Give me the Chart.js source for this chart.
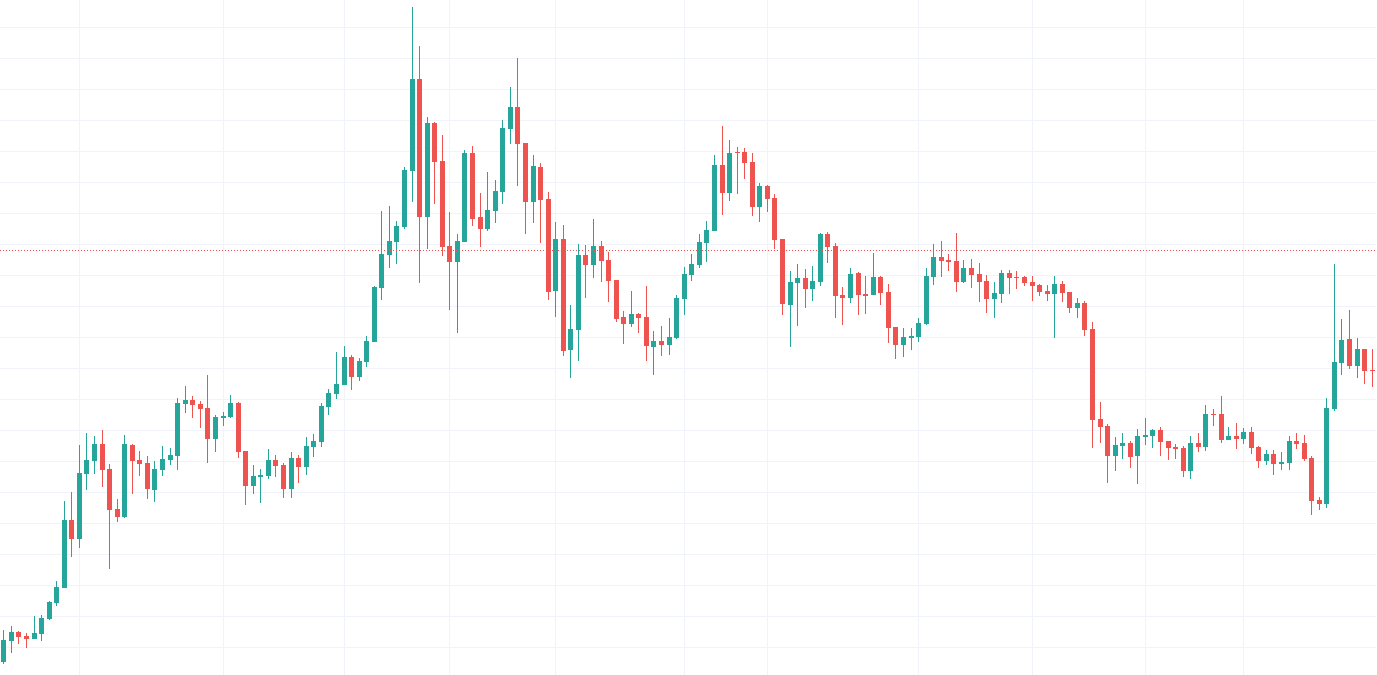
<!DOCTYPE html>
<html>
<head>
<meta charset="utf-8">
<script src="https://cdn.jsdelivr.net/npm/chart.js@4.4.1/dist/chart.umd.min.js"></script>
<style>
  html, body { margin: 0; padding: 0; background: #ffffff; }
  #wrap { width: 1377px; height: 675px; }
</style>
</head>
<body>
<div id="wrap"><canvas id="chart" width="1377" height="675"></canvas></div>
<script>
// daily candles, oldest first
const opens = [
  9.54, 10.21, 10.49, 10.37, 10.28, 10.44, 10.90, 11.44, 11.92, 14.11,
  13.50, 15.60, 16.02, 16.56, 15.75, 14.46, 14.21, 16.53, 16.04, 15.95,
  15.08, 15.73, 16.05, 16.18, 17.86, 17.98, 17.85, 17.72, 16.73, 17.41,
  17.43, 17.88, 16.33, 15.21, 15.50, 15.54, 16.04, 15.88, 15.12, 16.11,
  15.83, 16.47, 16.62, 17.76, 18.18, 18.47, 19.36, 18.73, 19.21, 19.86,
  21.60, 22.66, 23.08, 23.56, 25.37, 28.33, 23.88, 26.91, 25.69, 22.95,
  22.43, 23.07, 25.95, 23.88, 23.49, 24.07, 24.69, 26.72, 27.43, 26.27,
  24.37, 25.49, 24.46, 21.49, 23.17, 19.59, 20.24, 22.66, 22.33, 22.95,
  22.49, 21.85, 20.66, 20.43, 20.75, 20.66, 19.69, 19.88, 19.75, 19.98,
  21.24, 22.01, 22.33, 23.04, 23.43, 25.56, 24.66, 25.97, 25.98, 25.66,
  24.20, 24.88, 24.49, 23.17, 21.04, 21.75, 21.91, 21.56, 21.78, 23.33,
  22.95, 21.37, 21.27, 22.07, 21.40, 21.37, 21.95, 21.46, 20.33, 19.75,
  19.98, 20.01, 20.43, 21.95, 22.59, 22.49, 22.46, 21.78, 22.24, 22.04,
  21.82, 21.24, 21.40, 22.07, 21.95, 21.95, 21.78, 21.69, 21.49, 21.40,
  21.72, 21.46, 20.95, 21.11, 20.27, 17.36, 17.14, 16.17, 16.49, 16.59,
  16.17, 16.78, 16.82, 17.01, 16.65, 16.46, 16.43, 15.69, 16.59, 16.46,
  17.53, 17.53, 16.69, 16.82, 16.72, 16.95, 16.46, 16.01, 16.24, 15.91,
  15.95, 16.65, 16.59, 16.11, 14.75, 14.62, 17.69, 19.17, 19.95, 19.07,
  19.62, 18.95
];
const highs = [
  10.56, 10.69, 10.53, 10.46, 11.01, 11.04, 11.49, 12.14, 14.72, 15.01,
  16.53, 16.91, 16.82, 17.01, 15.91, 14.78, 16.85, 16.56, 16.33, 16.17,
  16.01, 16.49, 16.43, 18.04, 18.43, 18.11, 17.95, 18.78, 17.49, 17.59,
  18.14, 17.91, 16.34, 15.88, 15.75, 16.40, 16.20, 15.95, 16.30, 16.20,
  16.78, 16.88, 17.88, 18.33, 19.54, 19.72, 19.43, 19.33, 20.04, 21.66,
  24.07, 24.24, 23.75, 25.49, 30.66, 29.40, 27.11, 26.95, 26.53, 24.04,
  23.33, 26.04, 26.17, 24.66, 25.33, 25.07, 27.01, 28.07, 29.01, 26.28,
  25.88, 25.62, 24.69, 23.72, 23.62, 21.04, 23.01, 22.98, 23.82, 23.11,
  22.75, 21.86, 20.85, 21.49, 20.78, 21.66, 20.20, 20.37, 20.62, 21.37,
  22.27, 22.69, 23.33, 23.75, 25.88, 26.82, 26.37, 26.14, 26.11, 25.95,
  24.98, 24.91, 24.62, 23.18, 22.14, 22.37, 22.20, 22.30, 23.37, 23.40,
  23.04, 21.62, 22.24, 22.11, 21.98, 22.72, 21.98, 21.72, 20.34, 20.30,
  20.30, 20.62, 22.24, 23.01, 23.11, 22.69, 23.37, 22.49, 22.53, 22.40,
  22.01, 21.78, 22.17, 22.17, 22.14, 21.98, 21.98, 21.72, 21.69, 21.98,
  21.82, 21.47, 21.27, 21.17, 20.49, 17.91, 17.20, 16.78, 16.91, 16.65,
  17.04, 17.40, 17.04, 17.11, 16.66, 16.56, 16.49, 16.82, 16.91, 17.82,
  17.69, 18.11, 17.11, 17.24, 17.07, 17.11, 16.49, 16.36, 16.36, 16.30,
  16.82, 16.91, 16.85, 16.17, 14.85, 18.04, 22.37, 20.59, 20.88, 19.98,
  19.63, 19.62
];
const lows = [
  9.46, 9.83, 10.12, 9.99, 10.27, 10.21, 10.88, 11.34, 11.90, 12.92,
  13.21, 15.08, 15.60, 15.18, 12.54, 14.05, 14.18, 14.96, 15.54, 14.79,
  14.70, 15.54, 15.89, 15.73, 17.57, 17.41, 17.08, 15.96, 16.31, 17.15,
  17.41, 16.11, 14.59, 14.96, 14.67, 15.43, 15.50, 14.83, 14.83, 15.31,
  15.57, 16.15, 16.47, 17.50, 18.02, 18.46, 18.31, 18.60, 19.05, 19.85,
  21.21, 22.25, 22.37, 23.49, 24.37, 21.75, 22.85, 24.30, 22.62, 20.88,
  20.14, 23.06, 23.59, 22.91, 23.43, 23.69, 24.30, 26.24, 24.88, 23.33,
  23.69, 23.04, 21.20, 20.66, 19.40, 18.69, 19.24, 21.27, 21.91, 21.78,
  21.14, 20.49, 19.78, 20.33, 20.14, 19.24, 18.78, 19.40, 19.43, 19.95,
  20.72, 21.82, 22.24, 22.43, 23.42, 23.95, 24.40, 24.62, 25.11, 23.91,
  23.72, 24.04, 22.85, 20.72, 19.69, 20.37, 20.95, 21.17, 21.66, 22.40,
  20.62, 20.40, 21.11, 20.72, 20.75, 21.36, 21.04, 19.82, 19.30, 19.36,
  19.59, 19.85, 20.40, 21.69, 21.95, 22.14, 21.46, 21.75, 21.59, 21.14,
  20.78, 20.62, 21.11, 21.40, 21.56, 21.66, 21.17, 21.33, 21.17, 19.98,
  21.14, 20.78, 20.62, 20.04, 16.43, 16.59, 15.30, 15.69, 16.07, 15.78,
  15.27, 16.53, 16.43, 16.17, 16.04, 16.07, 15.49, 15.43, 16.30, 16.33,
  17.14, 16.59, 16.68, 16.40, 16.56, 16.24, 15.78, 15.88, 15.56, 15.72,
  15.72, 16.40, 16.01, 14.27, 14.43, 14.49, 17.62, 18.78, 18.98, 18.69,
  18.49, 18.40
];
const closes = [
  10.24, 10.49, 10.34, 10.28, 10.45, 10.95, 11.46, 11.95, 14.11, 13.50,
  15.62, 16.04, 16.56, 15.73, 14.44, 14.21, 16.56, 16.02, 15.92, 15.12,
  15.75, 16.07, 16.20, 17.88, 17.98, 17.83, 17.70, 16.73, 17.43, 17.46,
  17.88, 16.31, 15.21, 15.53, 15.56, 16.04, 15.86, 15.12, 16.11, 15.83,
  16.49, 16.65, 17.78, 18.20, 18.49, 19.36, 18.73, 19.24, 19.88, 21.62,
  22.69, 23.11, 23.59, 25.40, 28.33, 23.88, 26.91, 25.66, 22.91, 22.43,
  23.11, 25.95, 23.82, 23.49, 24.11, 24.72, 26.75, 27.43, 26.24, 24.37,
  25.53, 24.43, 21.46, 23.17, 19.56, 20.27, 22.66, 22.33, 22.95, 22.46,
  21.82, 20.59, 20.43, 20.75, 20.62, 19.72, 19.88, 19.75, 20.01, 21.27,
  22.04, 22.37, 23.07, 23.46, 25.56, 24.66, 25.95, 25.95, 25.62, 24.20,
  24.88, 24.46, 23.14, 21.07, 21.78, 21.91, 21.56, 21.82, 23.33, 22.91,
  21.33, 21.27, 22.04, 21.37, 21.33, 21.95, 21.43, 20.30, 19.75, 20.01,
  20.04, 20.46, 21.98, 22.59, 22.46, 22.43, 21.78, 22.24, 22.01, 21.78,
  21.24, 21.43, 22.07, 21.91, 21.91, 21.75, 21.66, 21.46, 21.40, 21.72,
  21.43, 20.95, 21.11, 20.24, 17.33, 17.11, 16.17, 16.53, 16.59, 16.14,
  16.82, 16.85, 17.01, 16.62, 16.43, 16.40, 15.69, 16.59, 16.46, 17.53,
  17.49, 16.69, 16.82, 16.72, 16.95, 16.43, 16.01, 16.24, 15.91, 15.98,
  16.65, 16.56, 16.07, 14.72, 14.62, 17.72, 19.20, 19.91, 19.07, 19.62,
  18.91, 18.92
];

// candles where the time grid has a vertical line
const timeGrid = [10, 29, 45, 59, 73, 90, 101, 121, 136, 151, 164];
// dotted price line
const priceLineValue = 22.82;
// visible price range and grid step
const yMin = 9.106;
const yMax = 30.881;
const yStep = 1;

const labels = opens.map((_, i) => String(i + 1));
const up = "#26a69a";
const down = "#ef5350";
const gridColor = "#f0f3fa";
const colors = opens.map((o, i) => (closes[i] >= o ? up : down));

// snap candles to whole pixels so 1px wicks stay sharp
const pixelSnap = {
  id: "pixelSnap",
  beforeDatasetsDraw(chart) {
    chart.data.datasets.forEach((d, i) => {
      chart.getDatasetMeta(i).data.forEach((el) => {
        el.x = Math.floor(el.x) + 0.5;
        el.y = Math.round(el.y);
        el.base = Math.round(el.base);
        if (el.y === el.base) el.base = el.y + 1;
      });
    });
  },
};

const priceLine = {
  id: "priceLine",
  afterDatasetsDraw(chart) {
    const { ctx, chartArea, scales } = chart;
    const y = Math.round(scales.y.getPixelForValue(priceLineValue)) + 0.5;
    ctx.save();
    ctx.strokeStyle = down;
    ctx.lineWidth = 1;
    ctx.setLineDash([1, 2]);
    ctx.beginPath();
    ctx.moveTo(chartArea.left, y);
    ctx.lineTo(chartArea.right, y);
    ctx.stroke();
    ctx.restore();
  },
};

const ctx = document.getElementById("chart");
new Chart(ctx, {
  type: "bar",
  data: {
    labels: labels,
    datasets: [
      {
        label: "wick",
        data: lows.map((l, i) => [l, highs[i]]),
        backgroundColor: colors,
        barThickness: 1,
        grouped: false,
        inflateAmount: 0,
        borderWidth: 0,
      },
      {
        label: "body",
        data: opens.map((o, i) => [o, closes[i]]),
        backgroundColor: colors,
        barThickness: 5,
        grouped: false,
        inflateAmount: 0,
        borderWidth: 0,
        minBarLength: 1,
      },
    ],
  },
  options: {
    responsive: false,
    animation: false,
    layout: { padding: { left: 0, right: 1, top: 0, bottom: 0 } },
    plugins: {
      legend: { display: false },
      tooltip: { enabled: false },
    },
    scales: {
      x: {
        grid: {
          offset: false,
          drawTicks: false,
          color: (c) => (timeGrid.includes(c.index) ? gridColor : "rgba(0,0,0,0)"),
        },
        border: { display: false },
        ticks: { display: false, autoSkip: false },
      },
      y: {
        min: yMin,
        max: yMax,
        grid: { drawTicks: false, color: gridColor },
        border: { display: false },
        ticks: { display: false, stepSize: yStep, includeBounds: false },
      },
    },
  },
  plugins: [pixelSnap, priceLine],
});
</script>
</body>
</html>
